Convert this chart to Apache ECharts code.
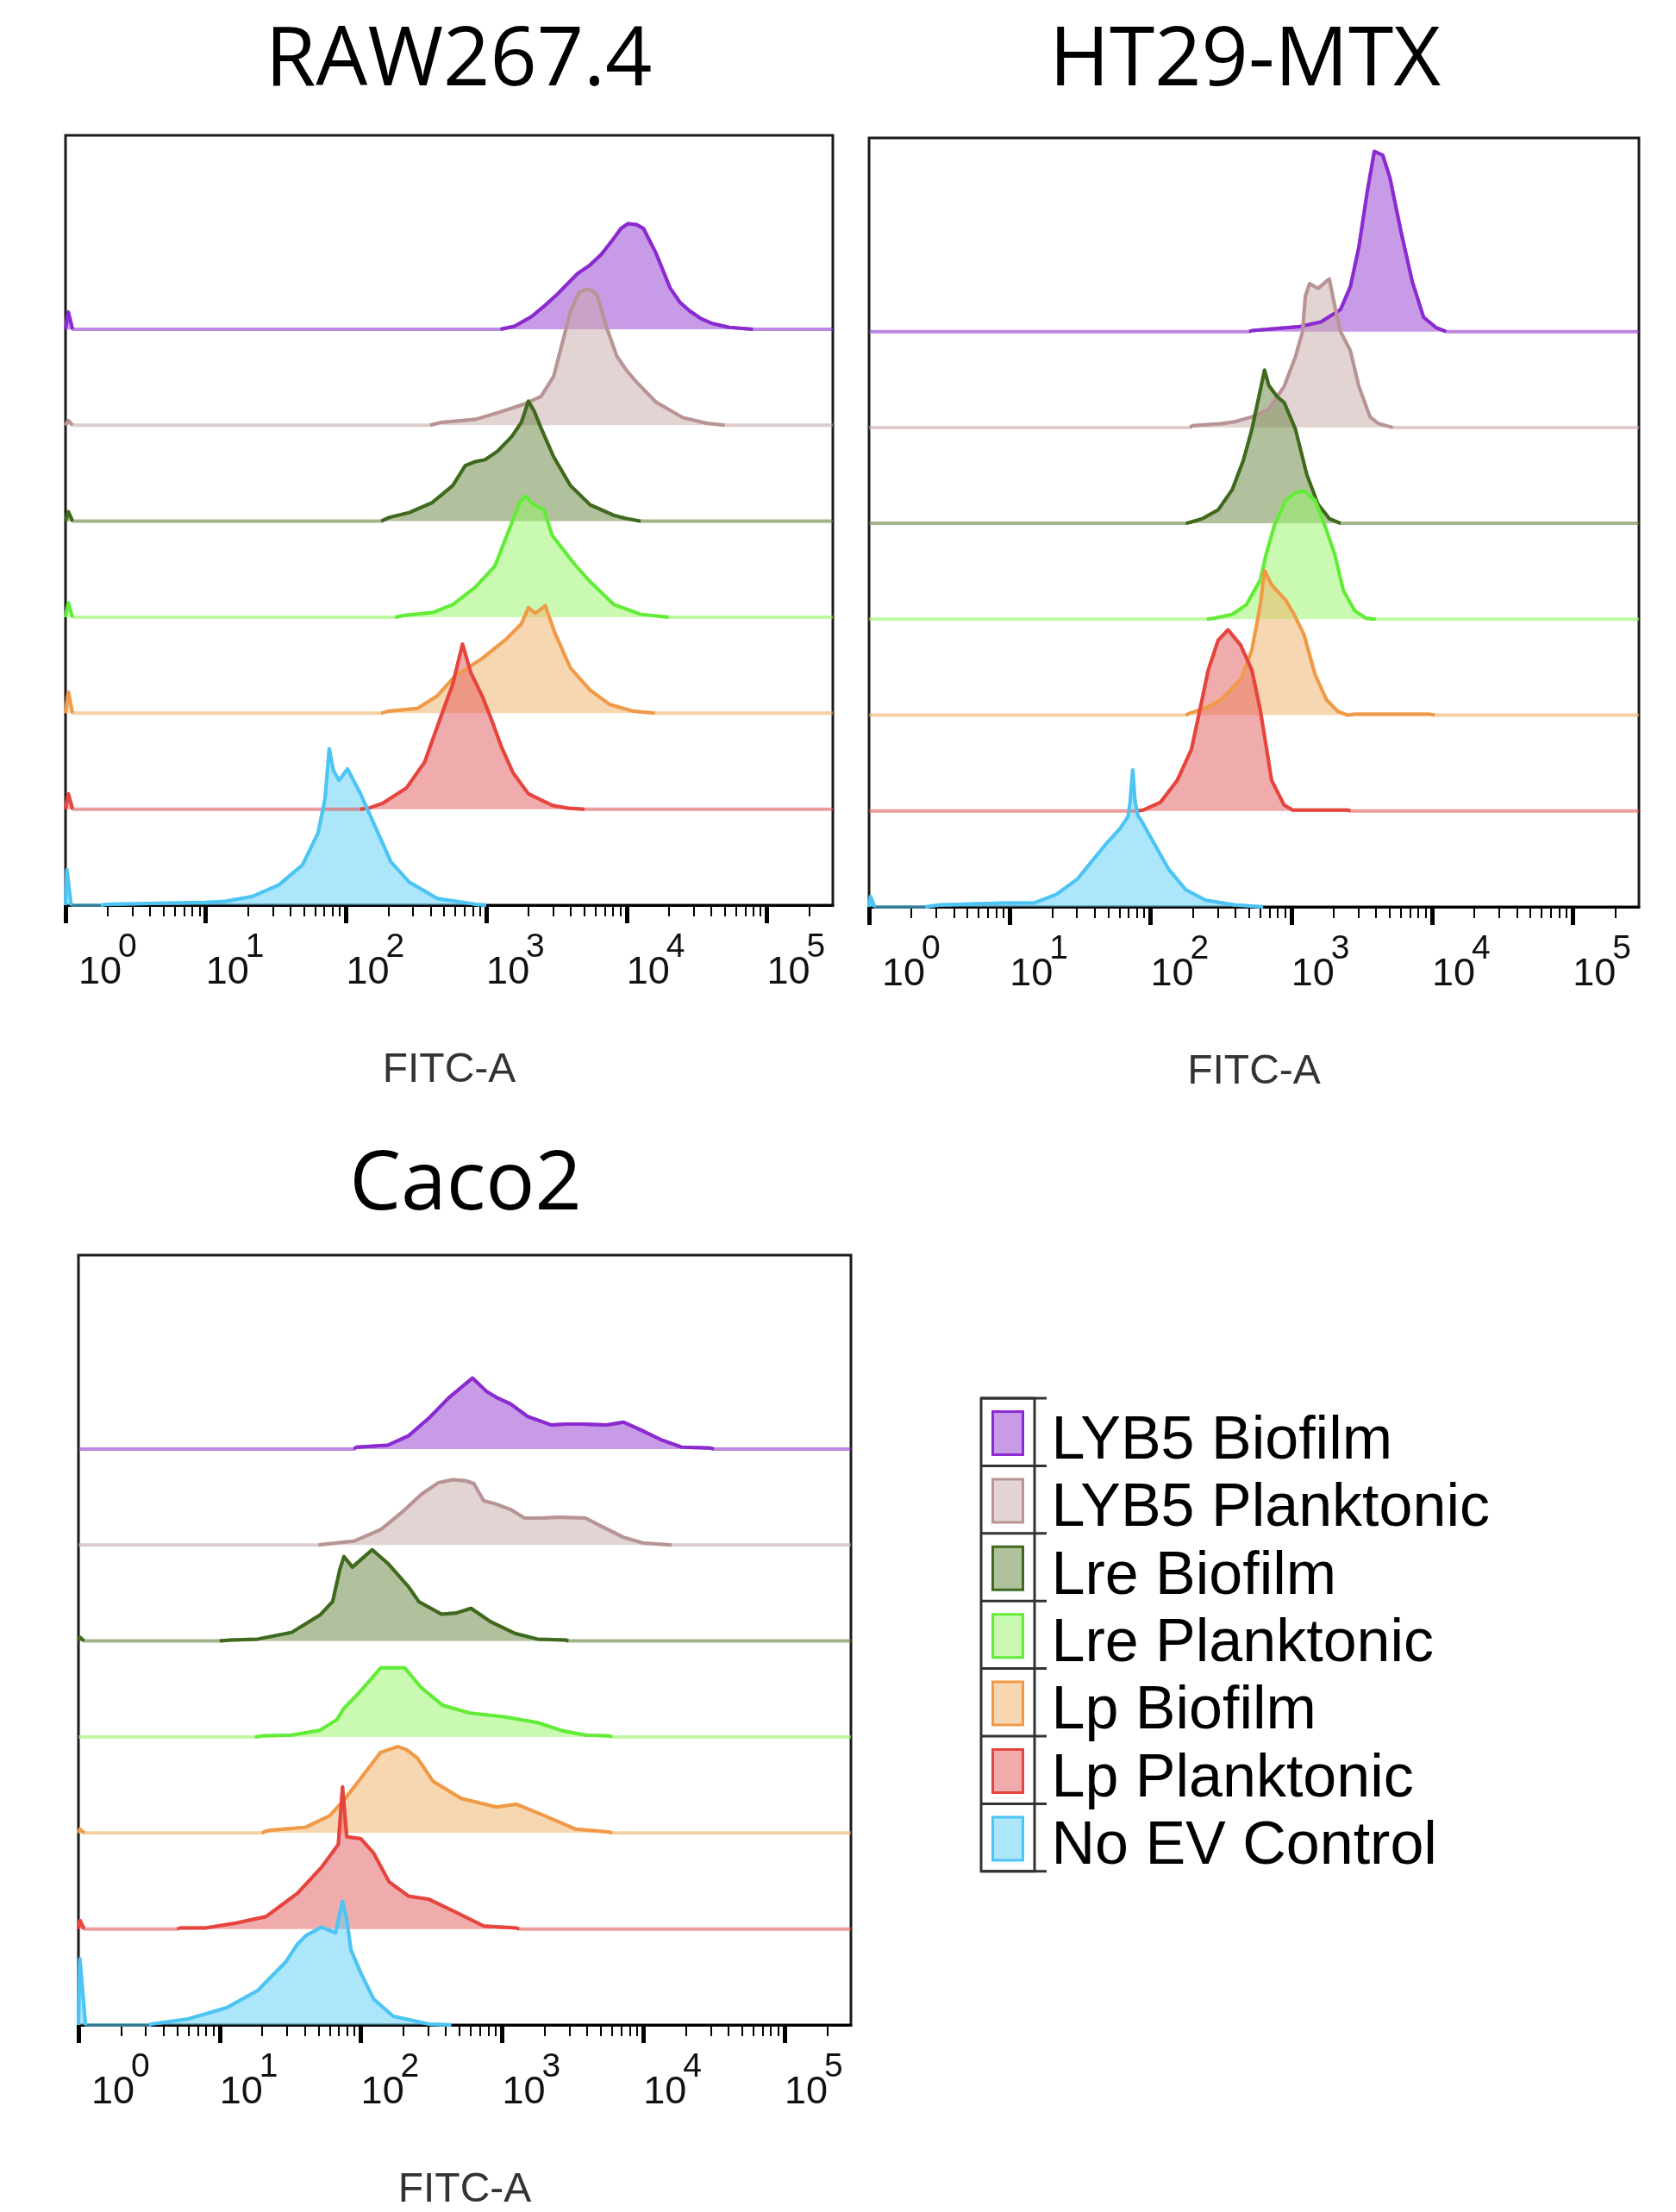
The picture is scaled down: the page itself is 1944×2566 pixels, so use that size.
<!DOCTYPE html>
<html>
<head>
<meta charset="utf-8">
<script src="https://cdn.jsdelivr.net/npm/echarts@6/dist/echarts.min.js"></script>
<style>
  html, body { margin: 0; padding: 0; background: #fff; }
  #chart { width: 1944px; height: 2566px; }
</style>
</head>
<body>
<div id="chart"></div>
<script>
// groups, top row first
const GROUPS = ['LYB5 Biofilm', 'LYB5 Planktonic', 'Lre Biofilm', 'Lre Planktonic', 'Lp Biofilm', 'Lp Planktonic', 'No EV Control'];
const LINE_COLORS = ['#8a2ad0', '#b89494', '#3f6a1e', '#62ec38', '#f09a48', '#e6443c', '#4cc4f4'];
const FILL_RGB = [[145, 55, 205], [200, 170, 170], [100, 130, 60], [150, 245, 100], [240, 175, 100], [225, 90, 90], [90, 205, 245]];
const PANEL_TITLES = ['RAW267.4', 'HT29-MTX', 'Caco2'];
const DECADES = [0, 1, 2, 3, 4, 5];   // 10^0 .. 10^5
const X_MAX = 5.47;                    // log10(FITC-A) at right edge
const ROW_STEP = 100;                  // offset between stacked histograms

// each point: [log10(FITC-A), height]
// --- RAW267.4
const raw_lyb5_bio = [[0,0],[0.02,18],[0.05,0],[3.1,0],[3.2,3],[3.32,13],[3.42,25],[3.51,37],[3.65,58],[3.74,67],[3.82,78],[3.89,91],[3.96,105],[4.01,110],[4.07,109],[4.12,105],[4.21,79],[4.31,43],[4.38,28],[4.45,19],[4.53,11],[4.61,6],[4.73,2],[4.9,0],[5.47,0]];
const raw_lyb5_plk = [[0,0],[0.02,5],[0.05,0],[2.6,0],[2.68,3],[2.92,6],[3.08,13],[3.27,22],[3.39,30],[3.48,51],[3.56,96],[3.6,119],[3.66,138],[3.71,142],[3.76,140],[3.79,135],[3.86,101],[3.93,72],[4.0,57],[4.07,45],[4.21,24],[4.4,8],[4.57,2],[4.7,0],[5.47,0]];
const raw_lre_bio = [[0,0],[0.02,10],[0.05,0],[2.25,0],[2.31,4],[2.45,9],[2.61,19],[2.76,37],[2.85,58],[2.92,62],[2.99,64],[3.08,73],[3.18,88],[3.25,103],[3.3,125],[3.34,115],[3.39,97],[3.48,67],[3.6,37],[3.74,17],[3.91,6],[3.99,3],[4.1,0],[5.47,0]];
const raw_lre_plk = [[0,0],[0.02,15],[0.05,0],[2.35,0],[2.42,2],[2.62,5],[2.76,13],[2.92,31],[3.06,53],[3.17,94],[3.24,120],[3.28,126],[3.33,118],[3.38,114],[3.41,112],[3.47,85],[3.63,55],[3.74,37],[3.91,13],[4.1,3],[4.3,0],[5.47,0]];
const raw_lp_bio = [[0,0],[0.02,22],[0.05,0],[2.25,0],[2.3,2],[2.51,5],[2.65,18],[2.78,39],[2.97,57],[3.14,77],[3.25,93],[3.3,110],[3.35,104],[3.42,112],[3.49,83],[3.6,47],[3.74,24],[3.88,9],[4.05,2],[4.2,0],[5.47,0]];
const raw_lp_plk = [[0,0],[0.02,16],[0.05,0],[2.1,0],[2.16,1],[2.26,6],[2.43,22],[2.56,49],[2.67,94],[2.76,130],[2.83,172],[2.89,142],[2.97,118],[3.04,92],[3.11,64],[3.19,38],[3.3,16],[3.47,4],[3.58,1],[3.7,0],[5.47,0]];
const raw_no_ev = [[0,0],[0.01,37],[0.04,0],[0.25,0],[0.3,1],[1.0,3],[1.14,4],[1.33,9],[1.52,21],[1.69,42],[1.8,75],[1.85,111],[1.88,163],[1.91,140],[1.95,130],[2.01,142],[2.1,117],[2.21,81],[2.32,45],[2.45,24],[2.65,7],[2.92,1],[3.0,0]];

// --- HT29-MTX
const ht_lyb5_bio = [[0,0],[2.7,0],[2.72,1],[3.05,5],[3.21,10],[3.35,23],[3.42,47],[3.48,88],[3.54,146],[3.59,188],[3.65,184],[3.7,161],[3.78,104],[3.86,52],[3.94,15],[4.03,4],[4.1,0],[5.47,0]];
const ht_lyb5_plk = [[0,0],[2.28,0],[2.3,2],[2.5,4],[2.6,6],[2.72,11],[2.84,19],[2.95,43],[3.03,74],[3.08,100],[3.1,137],[3.13,150],[3.19,145],[3.27,155],[3.31,126],[3.35,100],[3.42,80],[3.48,43],[3.56,11],[3.62,4],[3.72,0],[5.47,0]];
const ht_lre_bio = [[0,0],[2.25,0],[2.28,1],[2.37,5],[2.48,14],[2.58,35],[2.66,66],[2.72,98],[2.78,139],[2.81,160],[2.84,144],[2.9,132],[2.95,126],[3.03,98],[3.11,51],[3.19,20],[3.27,5],[3.35,0],[5.47,0]];
const ht_lre_plk = [[0,0],[2.4,0],[2.45,1],[2.58,5],[2.68,15],[2.78,41],[2.82,67],[2.88,98],[2.96,124],[3.03,132],[3.09,134],[3.17,124],[3.25,93],[3.31,67],[3.37,30],[3.45,9],[3.53,1],[3.6,0],[5.47,0]];
const ht_lp_bio = [[0,0],[2.25,0],[2.28,2],[2.4,8],[2.5,16],[2.64,37],[2.72,68],[2.78,115],[2.81,151],[2.86,136],[2.96,120],[3.02,105],[3.09,84],[3.17,42],[3.25,16],[3.33,4],[3.4,0],[3.45,1],[3.98,1],[4.02,0],[5.47,0]];
const ht_lp_plk = [[0,0],[1.9,0],[1.95,1],[2.07,9],[2.19,32],[2.29,64],[2.35,105],[2.41,147],[2.48,178],[2.55,189],[2.64,173],[2.72,147],[2.78,105],[2.82,69],[2.86,32],[2.95,6],[3.01,1],[3.4,1],[3.42,0],[5.47,0]];
const ht_no_ev = [[0,0],[0.01,11],[0.04,0],[0.4,0],[0.5,2],[0.97,4],[1.17,4],[1.33,13],[1.48,29],[1.58,47],[1.68,65],[1.78,81],[1.84,94],[1.855,110],[1.874,143],[1.89,110],[1.91,95],[1.93,91],[2.03,65],[2.13,39],[2.25,18],[2.39,7],[2.6,2],[2.8,0]];

// --- Caco2
const caco_lyb5_bio = [[0,0],[1.95,0],[1.97,2],[2.19,4],[2.34,14],[2.48,32],[2.62,53],[2.79,74],[2.89,60],[2.97,53],[3.06,47],[3.18,34],[3.35,25],[3.45,26],[3.57,26],[3.74,25],[3.86,28],[3.98,20],[4.12,10],[4.27,2],[4.47,1],[4.5,0],[5.47,0]];
const caco_lyb5_plk = [[0,0],[1.7,0],[1.75,1],[1.95,4],[2.14,16],[2.29,34],[2.43,53],[2.55,65],[2.65,68],[2.74,67],[2.8,64],[2.87,46],[2.95,43],[3.06,37],[3.16,28],[3.28,28],[3.4,29],[3.59,28],[3.71,19],[3.86,8],[4.0,2],[4.2,0],[5.47,0]];
const caco_lre_bio = [[0,0],[0.01,4],[0.04,0],[1.0,0],[1.08,1],[1.27,2],[1.51,9],[1.71,27],[1.8,41],[1.85,74],[1.88,88],[1.94,77],[2.08,95],[2.19,81],[2.34,56],[2.41,41],[2.57,28],[2.67,29],[2.78,34],[2.92,20],[3.09,8],[3.25,2],[3.45,1],[3.47,0],[5.47,0]];
const caco_lre_plk = [[0,0],[1.25,0],[1.3,1],[1.51,2],[1.71,7],[1.83,18],[1.88,30],[1.98,45],[2.07,60],[2.14,72],[2.31,72],[2.43,51],[2.58,33],[2.77,25],[3.01,21],[3.25,15],[3.44,6],[3.59,2],[3.76,1],[3.78,0],[5.47,0]];
const caco_lp_bio = [[0,0],[0.01,4],[0.04,0],[1.3,0],[1.33,2],[1.37,3],[1.61,6],[1.78,18],[1.89,36],[2.03,63],[2.14,84],[2.26,90],[2.32,87],[2.4,78],[2.51,54],[2.71,36],[2.96,27],[3.1,30],[3.3,18],[3.52,4],[3.76,1],[3.78,0],[5.47,0]];
const caco_lp_plk = [[0,0],[0.01,9],[0.04,0],[0.7,0],[0.72,1],[0.9,1],[1.11,6],[1.33,13],[1.55,37],[1.72,64],[1.84,88],[1.87,148],[1.9,96],[2.0,94],[2.09,79],[2.2,49],[2.34,34],[2.48,31],[2.65,19],[2.87,3],[3.1,1],[3.12,0],[5.47,0]];
const caco_no_ev = [[0,0],[0.01,69],[0.05,0],[0.5,0],[0.52,1],[0.77,6],[1.05,18],[1.27,36],[1.47,66],[1.55,84],[1.61,93],[1.72,102],[1.82,96],[1.87,129],[1.9,110],[1.93,78],[2.0,54],[2.09,27],[2.23,9],[2.48,1],[2.64,0]];

const RAW_ROWS = [raw_lyb5_bio, raw_lyb5_plk, raw_lre_bio, raw_lre_plk, raw_lp_bio, raw_lp_plk, raw_no_ev];
const HT_ROWS = [ht_lyb5_bio, ht_lyb5_plk, ht_lre_bio, ht_lre_plk, ht_lp_bio, ht_lp_plk, ht_no_ev];
const CACO_ROWS = [caco_lyb5_bio, caco_lyb5_plk, caco_lre_bio, caco_lre_plk, caco_lp_bio, caco_lp_plk, caco_no_ev];
const PANEL_ROWS = [RAW_ROWS, HT_ROWS, CACO_ROWS];

// layout of the three plot boxes (px)
const BOXES = [
  { left: 76, top: 157, width: 890, height: 893, titleX: 532, titleY: 72 },
  { left: 1008, top: 160, width: 893, height: 892, titleX: 1444, titleY: 72 },
  { left: 91, top: 1456, width: 896, height: 894, titleX: 540, titleY: 1376 }
];

const FONT = "'Liberation Sans', Arial, sans-serif";

function rgba(c, a) {
  return 'rgba(' + c[0] + ',' + c[1] + ',' + c[2] + ',' + a + ')';
}

// minor ticks at 2..9 x 10^n
const minorTicks = [];
DECADES.forEach(n => {
  for (let k = 2; k <= 9; k++) {
    const v = n + Math.log10(k);
    if (v <= X_MAX) minorTicks.push(v);
  }
});

const chart = echarts.init(document.getElementById('chart'), null, { renderer: 'canvas' });

const grids = [], xAxes = [], yAxes = [], series = [], graphics = [];

BOXES.forEach((b, p) => {
  grids.push({
    left: b.left, top: b.top, width: b.width, height: b.height,
    show: true, borderColor: '#1a1a1a', borderWidth: 3, containLabel: false
  });
  // major ticks, "10" labels, axis title
  xAxes.push({
    type: 'value', gridIndex: p, min: 0, max: X_MAX, position: 'bottom',
    name: 'FITC-A', nameLocation: 'middle', nameGap: 168,
    nameTextStyle: { fontSize: 48, color: '#333', fontFamily: FONT },
    axisLine: { show: true, lineStyle: { color: '#000', width: 3 } },
    axisTick: { show: true, customValues: DECADES, length: 21, lineStyle: { color: '#000', width: 5 } },
    axisLabel: {
      show: true, customValues: DECADES, margin: 56, align: 'left', verticalAlign: 'top',
      formatter: v => (v === 0 ? '{f|10}' : '{n|10}'),
      rich: {
        f: { fontSize: 45, fontFamily: FONT, color: '#111', padding: [0, 0, 0, 15] },
        n: { fontSize: 45, fontFamily: FONT, color: '#111' }
      }
    },
    splitLine: { show: false }
  });
  // minor ticks
  xAxes.push({
    type: 'value', gridIndex: p, min: 0, max: X_MAX, position: 'bottom',
    axisLine: { show: false },
    axisTick: { show: true, customValues: minorTicks, length: 13, lineStyle: { color: '#000', width: 2 } },
    axisLabel: { show: false },
    splitLine: { show: false }
  });
  // superscript exponents
  xAxes.push({
    type: 'value', gridIndex: p, min: 0, max: X_MAX, position: 'bottom',
    axisLine: { show: false }, axisTick: { show: false },
    axisLabel: {
      show: true, customValues: DECADES, margin: 30, align: 'left', verticalAlign: 'top',
      formatter: v => (v === 0 ? '{f|' + v + '}' : '{n|' + v + '}'),
      rich: {
        f: { fontSize: 39, fontFamily: FONT, color: '#111', padding: [0, 0, 0, 61] },
        n: { fontSize: 39, fontFamily: FONT, color: '#111', padding: [0, 0, 0, 46] }
      }
    },
    splitLine: { show: false }
  });
  yAxes.push({
    type: 'value', gridIndex: p, min: 0, max: 802, show: false, splitLine: { show: false }
  });

  graphics.push({
    type: 'text', x: b.titleX, y: b.titleY, z: 10,
    style: {
      text: PANEL_TITLES[p], fontSize: 95, fontFamily: "'Open Sans', sans-serif", fill: '#000',
      align: 'center', verticalAlign: 'middle', textAlign: 'center', textVerticalAlign: 'middle'
    }
  });

  PANEL_ROWS[p].forEach((pts, i) => {
    const off = (GROUPS.length - 1 - i) * ROW_STEP;
    const filled = pts.map(([x, h]) => [x, off + h]);
    series.push({
      type: 'line', name: GROUPS[i], xAxisIndex: p * 3, yAxisIndex: p,
      data: filled, symbol: 'none', smooth: false, silent: true,
      lineStyle: { color: rgba(FILL_RGB[i], 0.6), width: 4 },
      areaStyle: { color: rgba(FILL_RGB[i], 0.5), origin: off, opacity: 1 },
      emphasis: { disabled: true }
    });
    // dark outline only over the histogram, not along the flat baseline
    const outline = [];
    pts.forEach(([x, h], j) => {
      outline.push([x, off + h]);
      const nx = pts[j + 1];
      if (nx && h === 0 && nx[1] === 0) outline.push([x, '-']);
    });
    series.push({
      type: 'line', name: GROUPS[i], xAxisIndex: p * 3, yAxisIndex: p,
      data: outline, symbol: 'none', smooth: false, silent: true, connectNulls: false,
      lineStyle: { color: LINE_COLORS[i], width: 4, join: 'round' },
      emphasis: { disabled: true }
    });
  });
});

// legend frame
const LEG = { x: 1138, y: 1622, w: 62, row: 78.4, tail: 14 };
graphics.push({
  type: 'rect', shape: { x: LEG.x, y: LEG.y, width: LEG.w, height: LEG.row * GROUPS.length },
  style: { fill: 'none', stroke: '#333', lineWidth: 3 }
});
for (let k = 0; k <= GROUPS.length; k++) {
  const y = LEG.y + k * LEG.row;
  graphics.push({
    type: 'line', shape: { x1: LEG.x, y1: y, x2: LEG.x + LEG.w + LEG.tail, y2: y },
    style: { stroke: '#333', lineWidth: 3 }
  });
}

// legend swatch: 35x50 box near the top of a 98px-tall item, so the name sits a bit lower
const LEGEND_ITEM_H = 98;
const SWATCH_STROKE = 3;
const SWATCH_PATH = 'path://M0,0L0,0M0,14L35,14L35,64L0,64ZM35,98L35,98';

chart.setOption({
  animation: false,
  backgroundColor: '#fff',
  grid: grids,
  xAxis: xAxes,
  yAxis: yAxes,
  series: series,
  legend: {
    orient: 'vertical', left: 1150, top: LEG.y, padding: 0,
    itemGap: LEG.row - LEGEND_ITEM_H - SWATCH_STROKE,
    itemWidth: 35, itemHeight: LEGEND_ITEM_H, selectedMode: false,
    textStyle: { fontSize: 70, fontFamily: FONT, color: '#000', padding: [0, 0, 0, 28] },
    data: GROUPS.map((g, i) => ({
      name: g, icon: SWATCH_PATH,
      itemStyle: { color: rgba(FILL_RGB[i], 0.5), borderColor: LINE_COLORS[i], borderWidth: SWATCH_STROKE }
    }))
  },
  graphic: { elements: graphics }
});

window.addEventListener('resize', () => chart.resize());
</script>
</body>
</html>
